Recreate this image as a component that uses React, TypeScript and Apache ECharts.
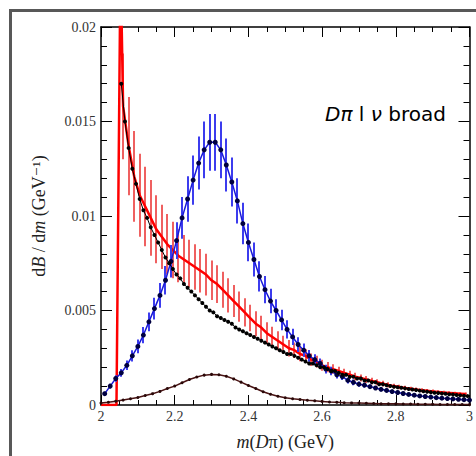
import React, { useEffect, useRef } from "react";
import * as echarts from "echarts";

// ---- data ----
const X_TICKS = ["2", "2.2", "2.4", "2.6", "2.8", "3"];
const Y_TICKS = ["0", "0.005", "0.01", "0.015", "0.02"];

// black dotted curve: x from 2.055, step 0.01
const BLACK_X0 = 2.055;
const BLACK_STEP = 0.01;
const BLACK_Y = [
  0.017, 0.015, 0.0136, 0.0125, 0.0117, 0.0109, 0.0103, 0.0099, 0.0094, 0.009,
  0.0086, 0.0082, 0.0078, 0.0075, 0.0072, 0.0069, 0.0067, 0.0064, 0.0062, 0.006,
  0.0058, 0.0056, 0.0054, 0.0052, 0.005, 0.0049, 0.0047, 0.0046, 0.0045, 0.0044,
  0.0043, 0.0041, 0.004, 0.0039, 0.0038, 0.0037, 0.0036, 0.0035, 0.0034, 0.0033,
  0.0032, 0.0031, 0.003, 0.0029, 0.0028, 0.0027, 0.0027, 0.0026, 0.0025, 0.0024,
  0.0023, 0.0022, 0.0022, 0.0021, 0.002, 0.002, 0.0019, 0.0018, 0.0018, 0.0017,
  0.0016, 0.0016, 0.0015, 0.0015, 0.0014, 0.0014, 0.0013, 0.0013, 0.0012, 0.0012,
  0.0011, 0.0011, 0.00105, 0.001, 0.00097, 0.00094, 0.00091, 0.00088, 0.00085, 0.00082,
  0.00079, 0.00076, 0.00073, 0.0007, 0.00067, 0.00065, 0.00063, 0.00061, 0.00059, 0.00057,
  0.00055, 0.00053, 0.00051, 0.00049, 0.00047,
];

// blue curve with errors: x from 2.01, step 0.015
const BLUE_X0 = 2.01;
const BLUE_STEP = 0.015;
const BLUE_Y = [
  0.0006, 0.001, 0.0014, 0.0017, 0.0021, 0.0026, 0.0031, 0.0037, 0.0044, 0.0051,
  0.0058, 0.0066, 0.0076, 0.0087, 0.0099, 0.0109, 0.0119, 0.0128, 0.0135, 0.0139,
  0.0139, 0.0135, 0.0127, 0.0118, 0.0108, 0.0096, 0.0086, 0.0077, 0.0068, 0.0061,
  0.0055, 0.005, 0.0045, 0.004, 0.0036, 0.0032, 0.0029, 0.0026, 0.0024, 0.0022,
  0.0019, 0.0018, 0.0016, 0.0015, 0.0013, 0.0012, 0.0011, 0.00105, 0.00097, 0.0009,
  0.00083, 0.00077, 0.00071, 0.00066, 0.00061, 0.00056, 0.00052, 0.00048, 0.00045, 0.00042,
  0.00039, 0.00036, 0.00034, 0.00032, 0.0003, 0.00028, 0.00026,
];
const BLUE_ERR = [
  0.0001, 0.00013, 0.00017, 0.0002, 0.00025, 0.0003, 0.00036, 0.00043, 0.0005, 0.00058,
  0.00066, 0.00075, 0.00086, 0.00097, 0.0011, 0.0012, 0.0013, 0.0014, 0.0015, 0.0015,
  0.0015, 0.0015, 0.0014, 0.0013, 0.0012, 0.0011, 0.001, 0.0009, 0.0008, 0.00072,
  0.00065, 0.0006, 0.00054, 0.00048, 0.00043, 0.00039, 0.00035, 0.00031, 0.00029, 0.00026,
  0.00023, 0.00022, 0.0002, 0.00018, 0.00016, 0.00015, 0.00014, 0.00013, 0.00012, 0.00011,
  0.0001, 0.0001, 0.00009, 0.00008, 0.00008, 0.00007, 0.00007, 0.00006, 0.00006, 0.00005,
  0.00005, 0.00005, 0.00004, 0.00004, 0.00004, 0.00004, 0.00004,
];

// red curve: threshold spike, then values with errors from 2.06, step 0.015
const RED_SPIKE_X = [2.0, 2.042, 2.053];
const RED_SPIKE_Y = [0.0, 0.0, 0.0235];
const RED_X0 = 2.06;
const RED_STEP = 0.015;
const RED_Y = [
  0.0158, 0.0137, 0.0121, 0.0111, 0.0105, 0.0099, 0.0093, 0.0089, 0.0085, 0.0082,
  0.0079, 0.0077, 0.0075, 0.0073, 0.0071, 0.0069, 0.0066, 0.0064, 0.0061, 0.0058,
  0.0055, 0.0052, 0.0049, 0.0046, 0.0043, 0.0041, 0.0038, 0.0036, 0.0034, 0.0032,
  0.003, 0.0029, 0.0027, 0.0026, 0.0024, 0.0023, 0.0021, 0.002, 0.0019, 0.0018,
  0.0017, 0.0016, 0.0015, 0.00143, 0.00135, 0.00127, 0.0012, 0.00113, 0.00106, 0.001,
  0.00095, 0.0009, 0.00086, 0.00082, 0.00078, 0.00075, 0.00072, 0.00069, 0.00066, 0.00064,
  0.00062, 0.0006, 0.00058,
];
const RED_ERR = [
  0.0028, 0.0026, 0.0024, 0.0022, 0.0021, 0.002, 0.0018, 0.0017, 0.0016, 0.0015,
  0.0014, 0.0013, 0.00125, 0.0012, 0.00115, 0.0011, 0.00105, 0.001, 0.00095, 0.0009,
  0.00085, 0.0008, 0.00075, 0.0007, 0.00066, 0.00062, 0.00058, 0.00054, 0.0005, 0.00047,
  0.00044, 0.00041, 0.00038, 0.00035, 0.00033, 0.00031, 0.00029, 0.00027, 0.00025, 0.00023,
  0.00022, 0.00021, 0.0002, 0.00019, 0.00018, 0.00017, 0.00016, 0.00015, 0.00014, 0.00013,
  0.00012, 0.00012, 0.00011, 0.00011, 0.0001, 0.0001, 0.0001, 0.00009, 0.00009, 0.00009,
  0.00008, 0.00008, 0.00008,
];

// small dark curve: x from 2.00, step 0.02
const DARK_X0 = 2.0;
const DARK_STEP = 0.02;
const DARK_Y = [
  0.0001, 0.00014, 0.0002, 0.00026, 0.00033, 0.0004, 0.0005, 0.0006, 0.00072, 0.00087,
  0.001, 0.00118, 0.00135, 0.00148, 0.00158, 0.00162, 0.0016, 0.00152, 0.00138, 0.00121,
  0.00103, 0.00087, 0.0007, 0.00057, 0.00046, 0.00038, 0.00033, 0.00029, 0.00025, 0.00022,
  0.00019, 0.00016, 0.00014, 0.00012, 0.00011, 0.0001, 0.00009, 0.00008, 0.00007, 0.00006,
  0.00006, 0.00005, 0.00005, 0.00004, 0.00004, 0.00004, 0.00003, 0.00003, 0.00003, 0.00003,
  0.00002,
];

const pairs = (x0: number, step: number, ys: number[]) =>
  ys.map((y, i) => [+(x0 + i * step).toFixed(4), y]);
const errs = (x0: number, step: number, ys: number[], es: number[]) =>
  ys.map((y, i) => [+(x0 + i * step).toFixed(4), y - es[i], y + es[i]]);

const SERIF = "'Liberation Serif', 'DejaVu Serif', serif";

function errorSeries(data: number[][], color: string, width: number, z: number) {
  return {
    type: "custom",
    z,
    clip: true,
    silent: true,
    progressive: 0,
    data,
    encode: { x: 0, y: [1, 2] },
    renderItem: (_p: any, api: any) => {
      const x = api.value(0);
      const a = api.coord([x, api.value(1)]);
      const b = api.coord([x, api.value(2)]);
      return {
        type: "rect",
        shape: { x: Math.round(a[0] - width / 2), y: b[1], width, height: a[1] - b[1] },
        style: { fill: color },
      };
    },
  };
}

export default function App() {
  const ref = useRef<HTMLDivElement>(null);
  useEffect(() => {
    if (!ref.current) return;
    const chart = echarts.init(ref.current, undefined, { renderer: "svg" });
    const redLine = [
      ...RED_SPIKE_X.map((x, i) => [x, RED_SPIKE_Y[i]]),
      ...pairs(RED_X0, RED_STEP, RED_Y),
    ];
    const axisCommon = {
      type: "value" as const,
      axisLine: { show: true, onZero: false, lineStyle: { color: "#000", width: 1.5 } },
      splitLine: { show: false },
    };
    chart.setOption({
      animation: false,
      backgroundColor: "#fff",
      grid: { left: 101, top: 27, right: 3, bottom: 48, containLabel: false },
      graphic: [
        {
          type: "rect",
          shape: { x: 10.5, y: 10.5, width: 600, height: 600 },
          style: { fill: "none", stroke: "#585858", lineWidth: 3 },
          silent: true,
        },
        {
          type: "text",
          left: 325,
          top: 104,
          style: {
            text: "{i|Dπ} l {i|ν} broad",
            fill: "#000",
            font: "20px 'DejaVu Sans', sans-serif",
            rich: {
              i: { fontStyle: "italic", fontSize: 20, fontFamily: "'DejaVu Sans', sans-serif" },
            },
          },
        },
      ],
      xAxis: [
        {
          ...axisCommon,
          min: 2,
          max: 3,
          interval: 0.2,
          name: "{i|m}({i|D}π) (GeV)",
          nameLocation: "middle",
          nameGap: 28,
          nameTextStyle: {
            fontFamily: SERIF,
            fontSize: 18,
            color: "#222",
            rich: { i: { fontStyle: "italic", fontFamily: SERIF, fontSize: 18, color: "#222" } },
          },
          axisTick: { show: true, inside: true, length: 10, lineStyle: { color: "#000" } },
          minorTick: { show: true, splitNumber: 4, length: 5, lineStyle: { color: "#000" } },
          axisLabel: {
            fontFamily: SERIF,
            fontSize: 14,
            color: "#333",
            margin: 4,
            formatter: (v: number) => X_TICKS[Math.round((v - 2) / 0.2)] ?? String(v),
          },
        },
        {
          ...axisCommon,
          position: "top",
          min: 2,
          max: 3,
          interval: 0.2,
          axisTick: { show: true, inside: true, length: 10, lineStyle: { color: "#000" } },
          minorTick: { show: true, splitNumber: 4, length: 5, lineStyle: { color: "#000" } },
          axisLabel: { show: false },
        },
      ],
      yAxis: [
        {
          ...axisCommon,
          min: 0,
          max: 0.02,
          interval: 0.005,
          name: "d{i|B} / d{i|m} (GeV⁻¹)",
          nameLocation: "middle",
          nameGap: 53,
          nameTextStyle: {
            fontFamily: SERIF,
            fontSize: 18,
            color: "#222",
            rich: { i: { fontStyle: "italic", fontFamily: SERIF, fontSize: 18, color: "#222" } },
          },
          axisTick: { show: true, inside: true, length: 11, lineStyle: { color: "#000" } },
          minorTick: { show: true, splitNumber: 5, length: 6, lineStyle: { color: "#000" } },
          axisLabel: {
            fontFamily: SERIF,
            fontSize: 14,
            color: "#333",
            margin: 5,
            formatter: (v: number) => Y_TICKS[Math.round(v / 0.005)] ?? String(v),
          },
        },
        {
          ...axisCommon,
          position: "right",
          min: 0,
          max: 0.02,
          interval: 0.005,
          axisTick: { show: true, inside: true, length: 11, lineStyle: { color: "#000" } },
          minorTick: { show: true, splitNumber: 5, length: 6, lineStyle: { color: "#000" } },
          axisLabel: { show: false },
        },
      ],
      series: [
        errorSeries(errs(RED_X0, RED_STEP, RED_Y, RED_ERR), "#ef6060", 2, 1),
        {
          type: "line",
          z: 2,
          data: redLine,
          showSymbol: false,
          symbol: "none",
          lineStyle: { color: "#ff0000", width: 2.5 },
          silent: true,
        },
        errorSeries(errs(BLUE_X0, BLUE_STEP, BLUE_Y, BLUE_ERR), "#3c3cee", 2, 3),
        {
          type: "line",
          z: 4,
          data: pairs(BLUE_X0, BLUE_STEP, BLUE_Y),
          symbol: "circle",
          symbolSize: 5,
          showSymbol: true,
          itemStyle: { color: "#000040" },
          lineStyle: { color: "#1a1ad8", width: 1.5 },
          silent: true,
        },
        {
          type: "line",
          z: 5,
          data: pairs(BLACK_X0, BLACK_STEP, BLACK_Y),
          symbol: "circle",
          symbolSize: 4,
          showSymbol: true,
          itemStyle: { color: "#000" },
          lineStyle: { color: "#000", width: 1 },
          silent: true,
        },
        {
          type: "line",
          z: 5,
          data: pairs(DARK_X0, DARK_STEP, DARK_Y),
          symbol: "circle",
          symbolSize: 3,
          showSymbol: true,
          itemStyle: { color: "#2a0808" },
          lineStyle: { color: "#4a1414", width: 1.5 },
          silent: true,
        },
      ],
    });
    return () => chart.dispose();
  }, []);
  return (
    <div
      ref={ref}
      style={{ position: "fixed", left: 0, top: 0, width: 476, height: 456 }}
    />
  );
}
